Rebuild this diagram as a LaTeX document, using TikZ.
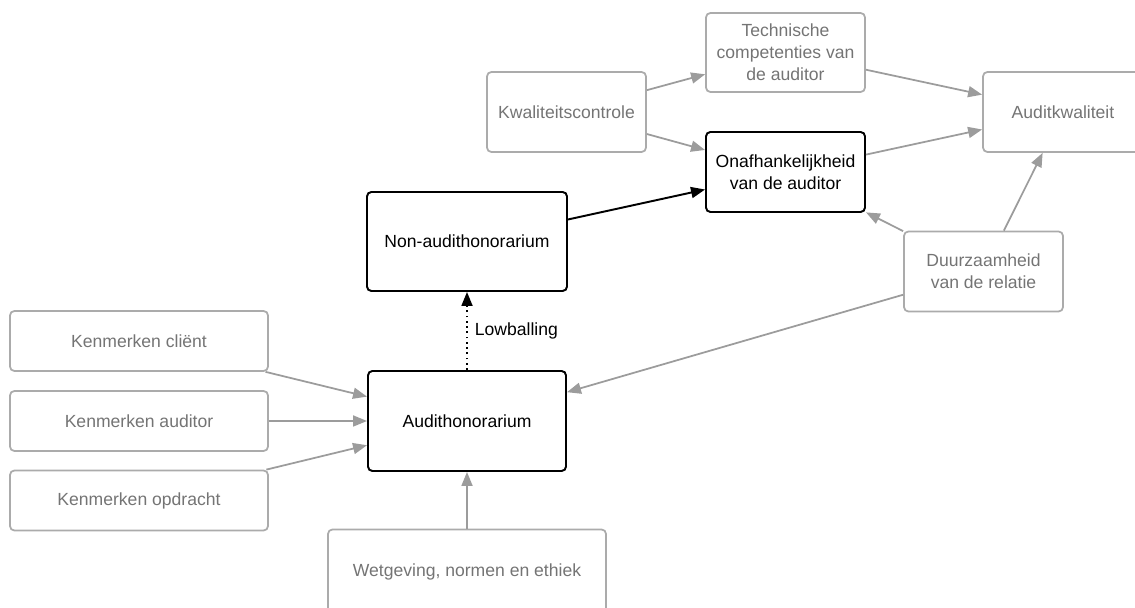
\documentclass[tikz,border=0pt]{standalone}
\usepackage{fontspec}
\setmainfont{Liberation Sans}
\usetikzlibrary{arrows.meta,positioning}
\definecolor{boxgray}{HTML}{ABABAB}
\definecolor{txtgray}{HTML}{747474}
\definecolor{linegray}{HTML}{9C9C9C}

\begin{document}
\begin{tikzpicture}[
    font=\fontsize{10}{12.5}\selectfont,
    factor/.style={rectangle, draw=boxgray, line width=1pt, rounded corners=2.5pt, text=txtgray,
                 align=center, inner sep=2pt, minimum width=3.18cm, minimum height=1.6cm},
    kern/.style={factor, draw=black, line width=1.1pt, text=black},
    arr/.style={-{Triangle[length=2.8mm, width=2.2mm]}, line width=1pt, linegray},
    karr/.style={arr, black, line width=1.1pt}
]
    \useasboundingbox (0,0) rectangle (22.7,12.16);

    % quality side
    \node[factor, minimum height=1.58cm] (tech) at (15.71,11.11) {Technische\\competenties van\\de auditor};
    \node[factor] (kwal) at (11.33,9.92) {Kwaliteitscontrole};
    \node[factor, minimum width=3.2cm] (akw) at (21.26,9.92) {Auditkwaliteit};
    \node[kern] (onaf) at (15.71,8.72) {Onafhankelijkheid\\van de auditor};
    \node[factor] (duur) at (19.67,6.73) {Duurzaamheid\\van de relatie};

    % fee side
    \node[kern, minimum width=4cm, minimum height=1.98cm] (nonaudit) at (9.34,7.33) {Non-audithonorarium};
    \node[kern, minimum width=3.96cm, minimum height=2cm] (ah) at (9.34,3.74) {Audithonorarium};
    \node[factor, minimum width=5.16cm, minimum height=1.2cm] (kc) at (2.78,5.34) {Kenmerken cliënt};
    \node[factor, minimum width=5.16cm, minimum height=1.2cm] (ka) at (2.78,3.74) {Kenmerken auditor};
    \node[factor, minimum width=5.16cm, minimum height=1.2cm] (ko) at (2.78,2.15) {Kenmerken opdracht};
    \node[factor, minimum width=5.56cm, minimum height=1.7cm] (wet) at (9.34,0.72) {Wetgeving, normen en ethiek};

    \draw[arr] (kwal) -- (tech);
    \draw[arr] (kwal) -- (onaf);
    \draw[arr] (tech) -- (akw);
    \draw[arr] (onaf) -- (akw);
    \draw[arr] (duur) -- (akw);
    \draw[arr] (duur) -- (onaf);
    \draw[arr] (duur) -- (ah);
    \draw[karr] (nonaudit) -- (onaf);

    \draw[arr] (kc) -- (ah);
    \draw[arr] (ka) -- (ah);
    \draw[arr] (ko) -- (ah);
    \draw[arr] (wet) -- (ah);
    \draw[karr, line width=1pt, dotted] (ah) -- node[midway, right, inner sep=4pt] (lowb) {Lowballing} (nonaudit);
\end{tikzpicture}
\end{document}
